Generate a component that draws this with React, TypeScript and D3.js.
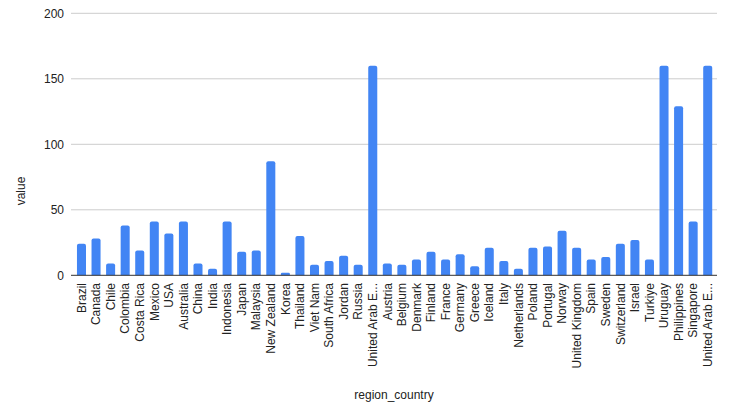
import React from 'react'
import * as d3 from 'd3'

const countries = [
  'Brazil', 'Canada', 'Chile', 'Colombia', 'Costa Rica', 'Mexico', 'USA', 'Australia',
  'China', 'India', 'Indonesia', 'Japan', 'Malaysia', 'New Zealand', 'Korea', 'Thailand',
  'Viet Nam', 'South Africa', 'Jordan', 'Russia', 'United Arab E...', 'Austria', 'Belgium',
  'Denmark', 'Finland', 'France', 'Germany', 'Greece', 'Iceland', 'Italy', 'Netherlands',
  'Poland', 'Portugal', 'Norway', 'United Kingdom', 'Spain', 'Sweden', 'Switzerland',
  'Israel', 'Turkiye', 'Uruguay', 'Philippines', 'Singapore', 'United Arab E... ',
]

const values = [
  24, 28, 9, 38, 19, 41, 32, 41,
  9, 5, 41, 18, 19, 87, 2, 30,
  8, 11, 15, 8, 160, 9, 8,
  12, 18, 12, 16, 7, 21, 11, 5,
  21, 22, 34, 21, 12, 14, 24,
  27, 12, 160, 129, 41, 160,
]

const yTicks = [0, 50, 100, 150, 200]

const W = 732
const H = 418
const FONT = 'Arial, "Liberation Sans", sans-serif'

export default function App() {
  const x = d3.scaleBand<string>()
    .domain(countries)
    .range([74.2, 715])
    .paddingInner(0.38)
    .paddingOuter(0.19)

  const y = d3.scaleLinear().domain([0, 200]).range([275.3, 13.3])

  const barPath = (cx: number, w: number, top: number, bottom: number) => {
    const r = Math.min(2, (bottom - top) / 2)
    const x0 = cx - w / 2
    const x1 = cx + w / 2
    return `M${x0},${bottom}V${top + r}Q${x0},${top} ${x0 + r},${top}H${x1 - r}Q${x1},${top} ${x1},${top + r}V${bottom}Z`
  }

  return (
    <div style={{ position: 'absolute', left: 0, top: 0 }}>
      <svg width={W} height={H} style={{ display: 'block', background: '#fff' }}>
        {/* grid */}
        {yTicks.filter(t => t > 0).map(t => (
          <line key={t} x1={71} x2={717} y1={y(t)} y2={y(t)} stroke="#cccccc" strokeWidth={1} />
        ))}
        {yTicks.map(t => (
          <text key={t} x={64} y={y(t)} dy="0.35em" textAnchor="end"
            style={{ fontFamily: FONT, fontSize: 12, fill: '#222' }}>{t}</text>
        ))}

        {/* bars */}
        {countries.map((c, i) => {
          const cx = x(c)! + x.bandwidth() / 2
          return (
            <path key={c} d={barPath(cx, x.bandwidth(), y(values[i]), y(0))} fill="#4285f4" />
          )
        })}

        <line x1={71} x2={717} y1={y(0)} y2={y(0)} stroke="#333" strokeWidth={1} />

        {/* x labels */}
        {countries.map(c => {
          const cx = x(c)! + x.bandwidth() / 2
          return (
            <text key={c} transform={`translate(${cx},283) rotate(-90)`} dy="0.35em" textAnchor="end"
              style={{ fontFamily: FONT, fontSize: 12, fill: '#222' }}>{c.trim()}</text>
          )
        })}

        <text transform="translate(25,191) rotate(-90)" textAnchor="middle"
          style={{ fontFamily: FONT, fontSize: 12, fill: '#222' }}>value</text>
        <text x={394} y={399} textAnchor="middle"
          style={{ fontFamily: FONT, fontSize: 12, fill: '#222' }}>region_country</text>
      </svg>
    </div>
  )
}
